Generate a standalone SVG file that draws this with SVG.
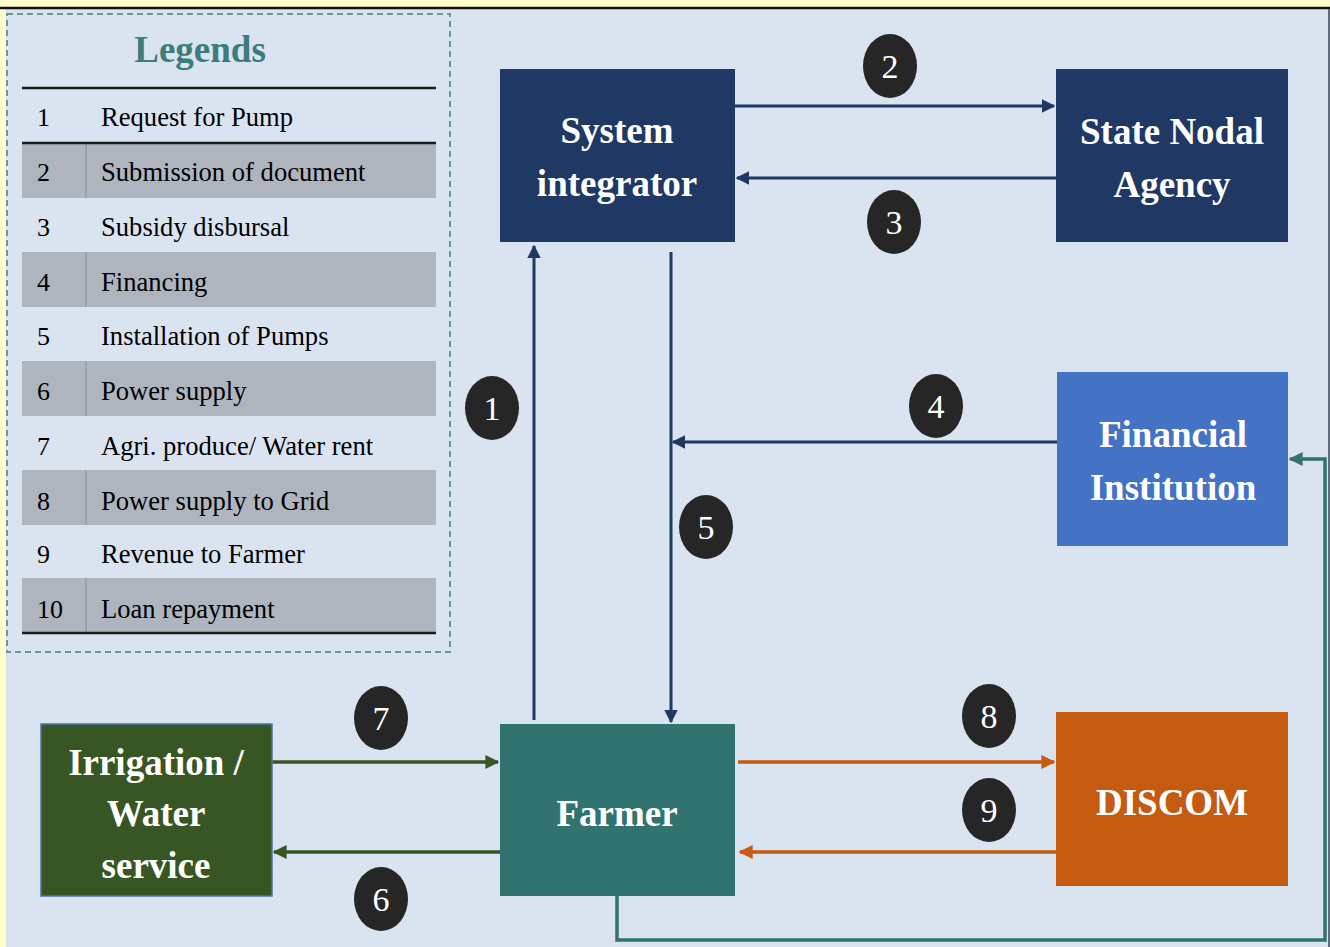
<svg xmlns="http://www.w3.org/2000/svg" width="1330" height="947" viewBox="0 0 1330 947">
<style>
.num{font-family:"Liberation Serif",serif;font-size:26px;fill:#000}
.lt{font-family:"Liberation Serif",serif;font-size:26.6px;fill:#000}
.nt{font-family:"Liberation Serif",serif;font-size:37px;font-weight:bold;fill:#fff;text-anchor:middle}
.bt{font-family:"Liberation Serif",serif;font-size:34px;fill:#fff;text-anchor:middle}
.navy{stroke:#1f3864;stroke-width:3;fill:none}
.grn{stroke:#375623;stroke-width:3.5;fill:none}
.org{stroke:#c55a11;stroke-width:3.5;fill:none}
.tl{stroke:#31736e;stroke-width:3.5;fill:none}
.gr{fill:#aeb5bf}
.rule{stroke:#1a1a1a;stroke-width:2.5}
</style>
<defs>
<marker id="aN" viewBox="0 0 10 10" refX="9" refY="5" markerWidth="4.5" markerHeight="4.5" orient="auto" markerUnits="strokeWidth"><path d="M0,0 L10,5 L0,10 z" fill="#1f3864"/></marker>
<marker id="aG" viewBox="0 0 10 10" refX="9" refY="5" markerWidth="4" markerHeight="4" orient="auto" markerUnits="strokeWidth"><path d="M0,0 L10,5 L0,10 z" fill="#375623"/></marker>
<marker id="aO" viewBox="0 0 10 10" refX="9" refY="5" markerWidth="4" markerHeight="4" orient="auto" markerUnits="strokeWidth"><path d="M0,0 L10,5 L0,10 z" fill="#c55a11"/></marker>
<marker id="aT" viewBox="0 0 10 10" refX="9" refY="5" markerWidth="4" markerHeight="4" orient="auto" markerUnits="strokeWidth"><path d="M0,0 L10,5 L0,10 z" fill="#31736e"/></marker>
</defs>
<rect x="0" y="0" width="1330" height="947" fill="#ffffcc"/>
<rect x="6" y="8" width="1324" height="939" fill="#dae3f0"/>
<line x1="0" y1="8" x2="1330" y2="8" stroke="#111" stroke-width="2.5"/>
<line x1="1329" y1="9" x2="1329" y2="947" stroke="#5f6b78" stroke-width="2"/>

<g id="legend">
<rect x="7" y="14" width="443" height="638" fill="none" stroke="#6a9696" stroke-width="2" stroke-dasharray="6,4"/>
<text x="200" y="62" text-anchor="middle" style="font-family:'Liberation Serif',serif;font-size:37px;font-weight:bold;fill:#3a7d7a">Legends</text>
<rect class="gr" x="22" y="143" width="414" height="55"/>
<rect class="gr" x="22" y="252" width="414" height="55"/>
<rect class="gr" x="22" y="361" width="414" height="55"/>
<rect class="gr" x="22" y="470" width="414" height="55"/>
<rect class="gr" x="22" y="578" width="414" height="55"/>
<g stroke="#8a9099" stroke-width="1">
<line x1="86" y1="144" x2="86" y2="198"/>
<line x1="86" y1="252" x2="86" y2="307"/>
<line x1="86" y1="361" x2="86" y2="416"/>
<line x1="86" y1="470" x2="86" y2="525"/>
<line x1="86" y1="578" x2="86" y2="633"/>
</g>
<line class="rule" x1="22" y1="88" x2="436" y2="88"/>
<line class="rule" x1="22" y1="143" x2="436" y2="143"/>
<line class="rule" x1="22" y1="633" x2="436" y2="633"/>
<text class="num" x="37" y="126">1</text><text class="lt" x="101" y="126">Request for Pump</text>
<text class="num" x="37" y="181">2</text><text class="lt" x="101" y="181">Submission of document</text>
<text class="num" x="37" y="236">3</text><text class="lt" x="101" y="236">Subsidy disbursal</text>
<text class="num" x="37" y="291">4</text><text class="lt" x="101" y="291">Financing</text>
<text class="num" x="37" y="345">5</text><text class="lt" x="101" y="345">Installation of Pumps</text>
<text class="num" x="37" y="400">6</text><text class="lt" x="101" y="400">Power supply</text>
<text class="num" x="37" y="455">7</text><text class="lt" x="101" y="455">Agri. produce/ Water rent</text>
<text class="num" x="37" y="510">8</text><text class="lt" x="101" y="510">Power supply to Grid</text>
<text class="num" x="37" y="563">9</text><text class="lt" x="101" y="563">Revenue  to Farmer</text>
<text class="num" x="37" y="618">10</text><text class="lt" x="101" y="618">Loan repayment</text>
</g>

<g id="connectors">
<line class="navy" x1="735" y1="106" x2="1054" y2="106" marker-end="url(#aN)"/>
<line class="navy" x1="1056" y1="178" x2="737" y2="178" marker-end="url(#aN)"/>
<line class="navy" x1="534" y1="720" x2="534" y2="246" marker-end="url(#aN)"/>
<line class="navy" x1="671" y1="252" x2="671" y2="722" marker-end="url(#aN)"/>
<line class="navy" x1="1057" y1="442" x2="673" y2="442" marker-end="url(#aN)"/>
<line class="grn" x1="272" y1="762" x2="498" y2="762" marker-end="url(#aG)"/>
<line class="grn" x1="500" y1="852" x2="274" y2="852" marker-end="url(#aG)"/>
<line class="org" x1="738" y1="762" x2="1054" y2="762" marker-end="url(#aO)"/>
<line class="org" x1="1056" y1="852" x2="740" y2="852" marker-end="url(#aO)"/>
<polyline class="tl" points="617,896 617,940 1325,940 1325,459 1290,459" marker-end="url(#aT)"/>
</g>

<g id="system-integrator">
<rect x="500" y="69" width="235" height="173" fill="#1f3864"/>
<text class="nt" x="617" y="143">System</text>
<text class="nt" x="617" y="196">integrator</text>
</g>
<g id="state-nodal-agency">
<rect x="1056" y="69" width="232" height="173" fill="#1f3864"/>
<text class="nt" x="1172" y="144">State Nodal</text>
<text class="nt" x="1172" y="197">Agency</text>
</g>
<g id="financial-institution">
<rect x="1057" y="372" width="231" height="174" fill="#4472c4"/>
<text class="nt" x="1173" y="447">Financial</text>
<text class="nt" x="1173" y="500">Institution</text>
</g>
<g id="farmer">
<rect x="500" y="724" width="235" height="172" fill="#31736e"/>
<text class="nt" x="617" y="826">Farmer</text>
</g>
<g id="irrigation">
<rect x="41" y="724" width="231" height="172" fill="#375623" stroke="#4a75a8" stroke-width="1.5"/>
<text class="nt" x="156" y="775">Irrigation /</text>
<text class="nt" x="156" y="826">Water</text>
<text class="nt" x="156" y="878">service</text>
</g>
<g id="discom">
<rect x="1056" y="712" width="232" height="174" fill="#c55a11"/>
<text class="nt" x="1172" y="815">DISCOM</text>
</g>

<g id="badges" fill="#262626">
<ellipse cx="890" cy="66" rx="27" ry="32"/><text class="bt" x="890" y="78">2</text>
<ellipse cx="894" cy="222" rx="27" ry="32"/><text class="bt" x="894" y="234">3</text>
<ellipse cx="492" cy="408" rx="27" ry="32"/><text class="bt" x="492" y="420">1</text>
<ellipse cx="936" cy="406" rx="27" ry="32"/><text class="bt" x="936" y="418">4</text>
<ellipse cx="706" cy="527" rx="27" ry="32"/><text class="bt" x="706" y="539">5</text>
<ellipse cx="381" cy="718" rx="27" ry="32"/><text class="bt" x="381" y="730">7</text>
<ellipse cx="381" cy="899" rx="27" ry="32"/><text class="bt" x="381" y="911">6</text>
<ellipse cx="989" cy="716" rx="27" ry="32"/><text class="bt" x="989" y="728">8</text>
<ellipse cx="989" cy="810" rx="27" ry="32"/><text class="bt" x="989" y="822">9</text>
</g>
</svg>
